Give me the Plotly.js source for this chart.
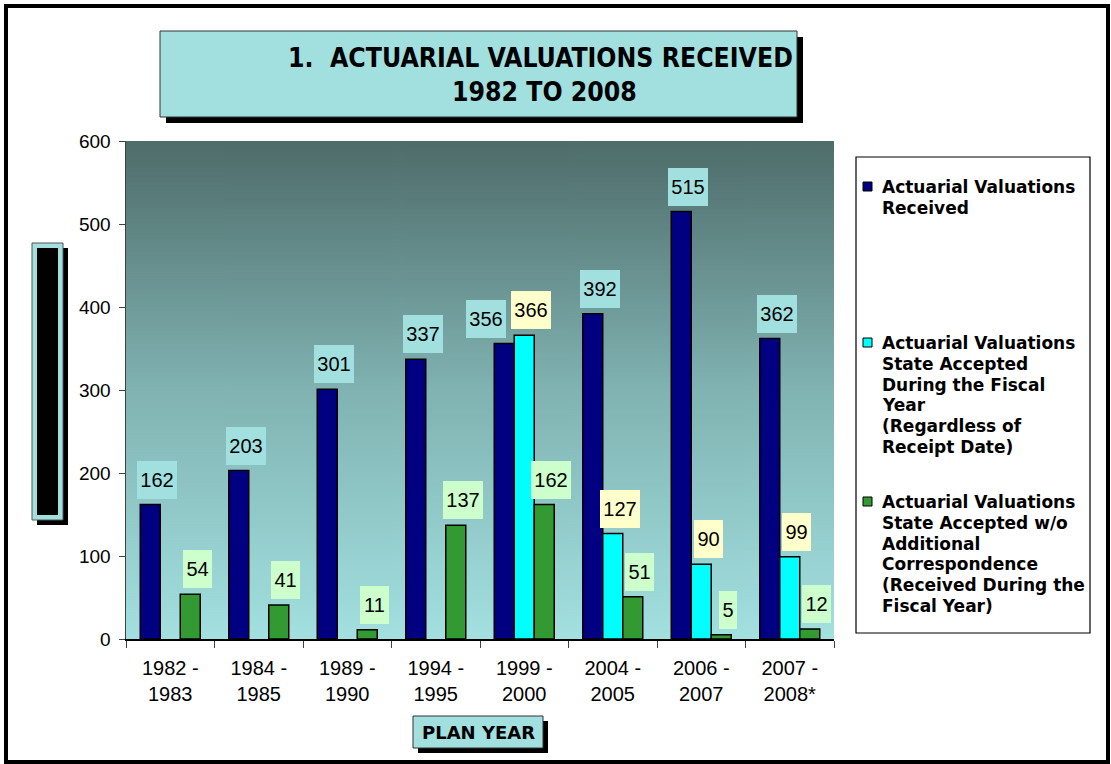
<!DOCTYPE html>
<html><head><meta charset="utf-8">
<script src="https://cdn.plot.ly/plotly-3.0.1.min.js"></script>
<style>body{margin:0;background:#fff}</style>
</head><body>
<div id="chart" style="width:1111px;height:764px"></div>
<script>
// ---------- data ----------
const categories = ["1982 - 1983","1984 - 1985","1989 - 1990","1994 - 1995","1999 - 2000","2004 - 2005","2006 - 2007","2007 - 2008*"];
const received = [162,203,301,337,356,392,515,362];
const acceptedFiscal = [null,null,null,null,366,127,90,99];
const acceptedNoCorr = [54,41,11,137,162,51,5,12];
const seriesNames = [
  "Actuarial Valuations<br>Received",
  "Actuarial Valuations<br>State Accepted<br>During the Fiscal<br>Year<br>(Regardless of<br>Receipt Date)",
  "Actuarial Valuations<br>State Accepted w/o<br>Additional<br>Correspondence<br>(Received During the<br>Fiscal Year)"
];
const yTicks = [0,100,200,300,400,500,600];
const titleLines = ["1.  ACTUARIAL VALUATIONS RECEIVED", "1982 TO 2008"];
const xTitle = "PLAN YEAR";

// ---------- geometry / style ----------
const W = 1111, H = 764;
const L = 126, R = 834, T = 141, B = 639;
const pw = R - L, ph = B - T;
const px = p => (p - L) / pw;
const py = p => (B - p) / ph;
const barColors = ['#000080', '#00ffff', '#339933'];
const labelBg = ['#a2e0e0', '#ffffcc', '#ccffcc'];
const boxFill = '#a2e0e0';
const bargap = 0.322;

function hasFont(name) {
  const ctx = document.createElement('canvas').getContext('2d');
  const t = 'abcdefghijklmnopqrstuvwxyzABCDEFGHIJKLM0123456789';
  const m = f => { ctx.font = f; return ctx.measureText(t).width; };
  return m('72px "' + name + '", monospace') !== m('72px monospace') ||
         m('72px "' + name + '", serif') !== m('72px serif');
}
let titleFamily = 'Liberation Sans';
for (const f of ['Liberation Sans Narrow', 'Arial Narrow', 'DejaVu Sans Condensed']) {
  if (hasFont(f)) { titleFamily = f; break; }
}
function fitSize(text, family, target) {
  const ctx = document.createElement('canvas').getContext('2d');
  ctx.font = 'bold 100px "' + family + '"';
  return 100 * target / ctx.measureText(text).width;
}
const titleSize = Math.min(32, fitSize(titleLines[0], titleFamily, 505));

// gradient background image for plot area
const gradSrc = (() => {
  const c = document.createElement('canvas'); c.width = 4; c.height = ph;
  const g = c.getContext('2d');
  const lg = g.createLinearGradient(0, 0, 0, ph);
  lg.addColorStop(0, '#4e6c6a');
  lg.addColorStop(0.5, '#80b3b2');
  lg.addColorStop(1, '#a3e0e0');
  g.fillStyle = lg; g.fillRect(0, 0, 4, ph);
  return c.toDataURL();
})();

function rect(x0, y0, x1, y1, fill, line, lw) {
  return {type: 'rect', xref: 'paper', yref: 'paper', x0: px(x0), x1: px(x1), y0: py(y1), y1: py(y0),
    fillcolor: fill || 'rgba(0,0,0,0)', line: {color: line || 'rgba(0,0,0,0)', width: lw || 0}, layer: 'above'};
}

const series = [received, acceptedFiscal, acceptedNoCorr];
const traces = series.map((vals, k) => ({
  type: 'bar', x: categories, y: vals, name: seriesNames[k].replace(/<br>/g, ' '),
  marker: {color: barColors[k], line: {color: '#000', width: 1.5}},
  hoverinfo: 'none', showlegend: false
}));

// ---------- value labels ----------
const annotations = [];
const slot = (1 - bargap) / 3;
const pxPerCat = pw / categories.length;
const pxPerUnit = ph / (yTicks[yTicks.length - 1] - yTicks[0]);
const labelH = 38;
const boxW = s => 11 * s.length + 7;
categories.forEach((c, i) => {
  const info = series.map((vals, k) => {
    const v = vals[i];
    if (v == null) return null;
    const s = String(v);
    const cx = (i + 0.5 + (k - 1) * slot) * pxPerCat + 7;
    return {k, v, s, w: boxW(s), cx, bottom: v * pxPerUnit + 6};
  });
  // avoid overlap between first and second series labels
  const a = info[0], b = info[1];
  if (a && b) {
    const overlapX = (a.cx + a.w / 2) - (b.cx - b.w / 2);
    const overlapY = Math.abs(a.bottom - b.bottom) < labelH;
    if (overlapX > 0 && overlapY) a.cx -= overlapX + 5;
  }
  info.forEach(o => {
    if (!o) return;
    const baseCx = (i + 0.5 + (o.k - 1) * slot) * pxPerCat;
    annotations.push({
      x: i + (o.k - 1) * slot, y: o.v, xref: 'x', yref: 'y',
      text: o.s, showarrow: false, xanchor: 'center', yanchor: 'bottom',
      xshift: o.cx - baseCx, yshift: 6,
      bgcolor: labelBg[o.k], width: o.w, height: labelH, borderpad: 0, borderwidth: 0,
      font: {family: 'Liberation Sans, Arial, sans-serif', size: 20, color: '#000'}
    });
  });
});

// ---------- title ----------
const titleCenters = [[540.5, 58], [544, 92]];
titleLines.forEach((t, j) => {
  annotations.push({
    xref: 'paper', yref: 'paper', x: px(titleCenters[j][0]), y: py(titleCenters[j][1]),
    text: '<b>' + t.replace(/  /g, '&nbsp; ') + '</b>', showarrow: false, xanchor: 'center', yanchor: 'middle',
    font: {family: titleFamily + ', Liberation Sans, Arial', size: titleSize, color: '#000'}
  });
});

// ---------- x axis title ----------
annotations.push({
  xref: 'paper', yref: 'paper', x: px(478), y: py(732), text: '<b>' + xTitle + '</b>',
  showarrow: false, xanchor: 'center', yanchor: 'middle',
  font: {family: 'DejaVu Sans, Verdana, sans-serif', size: 18, color: '#000'}
});

// ---------- legend (drawn) ----------
const legendFirstLine = [187, 343, 502];
const legendLineGap = 20.8;
const shapes = [];
shapes.push(rect(6, 6, 1108, 762, null, '#000', 4));
// title box
shapes.push(rect(166, 37, 803, 123, '#000', null, 0));
shapes.push(rect(160, 31, 797, 117, boxFill, '#333', 1));
// y title box
shapes.push(rect(37, 248, 68, 525, '#000', null, 0));
shapes.push(rect(32, 243, 63, 520, boxFill, '#555', 1));
shapes.push(rect(37, 248, 58, 515, '#000', null, 0));
// x title box
shapes.push(rect(418, 721, 548, 753, '#000', null, 0));
shapes.push(rect(413, 716, 543, 748, boxFill, '#333', 1));
// legend box
shapes.push(rect(856, 157, 1090, 633, '#fff', '#000', 1.2));
seriesNames.forEach((name, k) => {
  const y0 = legendFirstLine[k];
  shapes.push(rect(863, y0 - 5, 872, y0 + 4, barColors[k], '#000', 1));
  name.split('<br>').forEach((line, j) => {
    annotations.push({
      xref: 'paper', yref: 'paper', x: px(880), y: py(y0 + j * legendLineGap),
      text: '<b>' + line + '</b>', showarrow: false, xanchor: 'left', yanchor: 'middle',
      font: {family: 'DejaVu Sans, Verdana, sans-serif', size: 17, color: '#000'}
    });
  });
});

const layout = {
  width: W, height: H,
  margin: {l: L, r: W - R, t: T, b: H - B, pad: 0},
  paper_bgcolor: '#fff', plot_bgcolor: 'rgba(0,0,0,0)',
  barmode: 'group', bargap: bargap, bargroupgap: 0,
  showlegend: false,
  images: [{source: gradSrc, xref: 'paper', yref: 'paper', x: 0, y: 1, sizex: 1, sizey: 1,
    sizing: 'stretch', xanchor: 'left', yanchor: 'top', layer: 'below'}],
  xaxis: {
    type: 'category', range: [-0.5, categories.length - 0.5],
    tickmode: 'array', tickvals: categories, ticktext: categories.map(c => c.replace(' - ', ' -<br>')),
    ticks: 'outside', ticklen: 7, tickcolor: '#404040', tickson: 'boundaries',
    showline: true, linecolor: '#000', linewidth: 1.5, showgrid: false, zeroline: false,
    tickfont: {family: 'Liberation Sans, Arial, sans-serif', size: 20, color: '#000'},
    ticklabelstandoff: 10, fixedrange: true
  },
  yaxis: {
    range: [yTicks[0], yTicks[yTicks.length - 1]], tickmode: 'array', tickvals: yTicks,
    ticks: 'outside', ticklen: 6, tickcolor: '#404040',
    showline: true, linecolor: '#404040', linewidth: 1.5, showgrid: false, zeroline: false,
    tickfont: {family: 'Liberation Sans, Arial, sans-serif', size: 19, color: '#000'},
    ticklabelstandoff: 4, fixedrange: true
  },
  shapes: shapes,
  annotations: annotations
};

Plotly.newPlot('chart', traces, layout, {displayModeBar: false, staticPlot: true});
</script>
</body></html>
